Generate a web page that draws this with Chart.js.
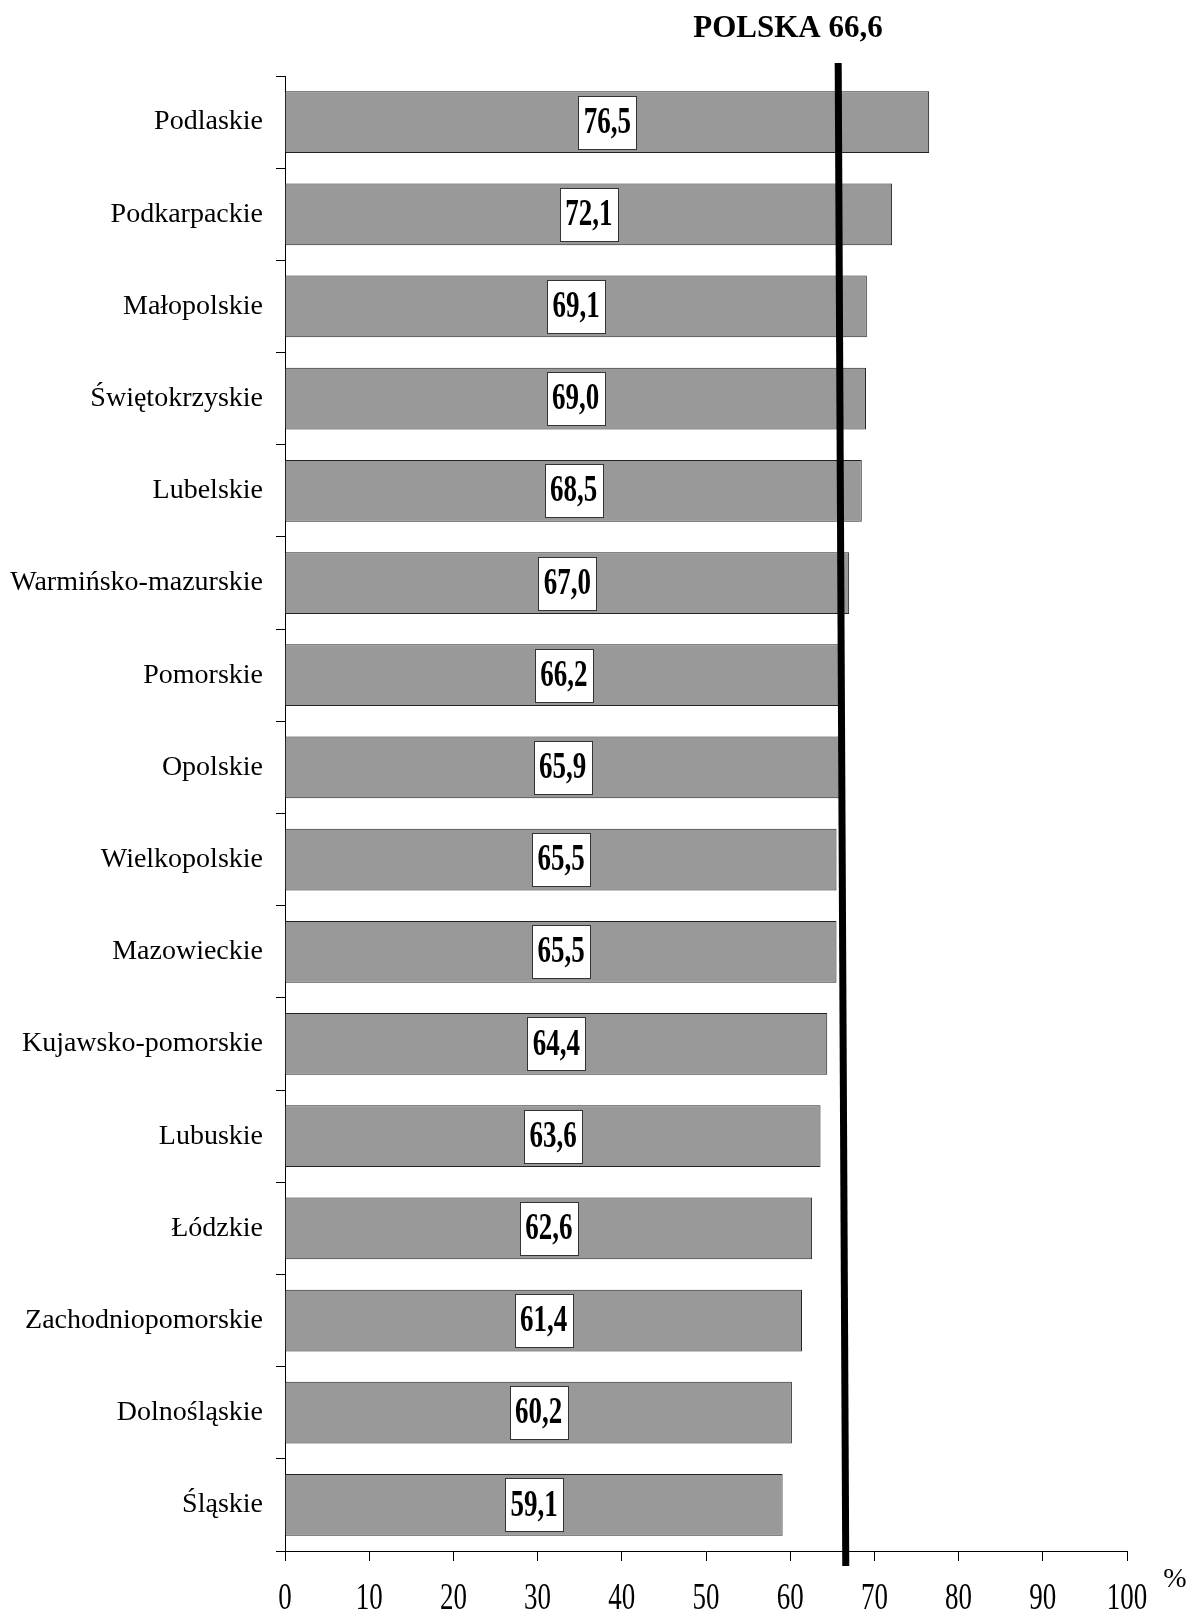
<!DOCTYPE html>
<html>
<head>
<meta charset="utf-8">
<script src="https://cdn.jsdelivr.net/npm/chart.js@4"></script>
<style>
    html, body { margin: 0; padding: 0; background: #fff; }
    #wrap { width: 1191px; height: 1612px; }
</style>
</head>
<body>
<div id="wrap"><canvas id="regionChart" width="1191" height="1612"></canvas></div>
<script>
const regions = ["Podlaskie", "Podkarpackie", "Małopolskie", "Świętokrzyskie", "Lubelskie",
    "Warmińsko-mazurskie", "Pomorskie", "Opolskie", "Wielkopolskie", "Mazowieckie",
    "Kujawsko-pomorskie", "Lubuskie", "Łódzkie", "Zachodniopomorskie", "Dolnośląskie", "Śląskie"];
const shares = [76.5, 72.1, 69.1, 69.0, 68.5, 67.0, 66.2, 65.9, 65.5, 65.5, 64.4, 63.6, 62.6, 61.4, 60.2, 59.1];
const polskaValue = 66.6;
const polskaTopValue = 65.7; // the reference line leans a little to the left at the top
const polskaLabel = "POLSKA 66,6";
const unitLabel = "%";

const serif = "'Liberation Serif', 'Times New Roman', serif";
const tallText = 1.38; // the original numbers are printed narrow and tall

function fmt(v) {
    return v.toFixed(1).replace('.', ',');
}

const extrasPlugin = {
    id: 'extras',
    afterLayout(chart) {
        // stretch the x tick labels vertically, anchored at the axis line
        const sc = chart.scales.x;
        if (sc._tallPatched) return;
        const orig = sc.drawLabels.bind(sc);
        sc.drawLabels = function (area) {
            const ctx = this.ctx;
            const y0 = this.top;
            ctx.save();
            ctx.translate(0, y0 * (1 - tallText));
            ctx.scale(1, tallText);
            orig(area);
            ctx.restore();
        };
        sc._tallPatched = true;
    },
    afterDatasetsDraw(chart) {
        const ctx = chart.ctx;
        const meta = chart.getDatasetMeta(0);
        ctx.save();
        meta.data.forEach((bar, i) => {
            const cx = (bar.x + bar.base) / 2;
            const cy = bar.y;
            const w = 58, h = 53;
            const bx = Math.round(cx - w / 2), by = Math.round(cy - h / 2);
            ctx.fillStyle = '#fff';
            ctx.fillRect(bx, by, w, h);
            ctx.strokeStyle = '#333';
            ctx.lineWidth = 1;
            ctx.strokeRect(bx + 0.5, by + 0.5, w, h);

            ctx.save();
            ctx.translate(cx, cy + 1);
            ctx.scale(1, tallText);
            ctx.fillStyle = '#000';
            ctx.font = "bold 27px " + serif;
            ctx.textAlign = 'center';
            ctx.textBaseline = 'middle';
            ctx.fillText(fmt(shares[i]), 0, 0);
            ctx.restore();
        });
        ctx.restore();
    },
    afterDraw(chart) {
        const ctx = chart.ctx;
        const x = chart.scales.x;
        const area = chart.chartArea;
        ctx.save();
        // national average line
        ctx.strokeStyle = '#000';
        ctx.lineWidth = 7;
        ctx.beginPath();
        ctx.moveTo(x.getPixelForValue(polskaTopValue), area.top - 13);
        ctx.lineTo(x.getPixelForValue(polskaValue), area.bottom + 15);
        ctx.stroke();

        ctx.fillStyle = '#000';
        ctx.font = "bold 31px " + serif;
        ctx.textAlign = 'center';
        ctx.textBaseline = 'middle';
        ctx.fillText(polskaLabel, 788, 29);

        ctx.font = "28px " + serif;
        ctx.fillText(unitLabel, area.right + 48, area.bottom + 29);
        ctx.restore();
    }
};

new Chart(document.getElementById('regionChart'), {
    type: 'bar',
    data: {
        labels: regions,
        datasets: [{
            data: shares,
            backgroundColor: '#999999',
            borderColor: '#222',
            borderWidth: 1,
            barPercentage: 0.67,
            categoryPercentage: 1
        }]
    },
    options: {
        indexAxis: 'y',
        responsive: false,
        animation: false,
        layout: { padding: { top: 76, right: 64, left: 0, bottom: 0 } },
        plugins: {
            legend: { display: false },
            tooltip: { enabled: false }
        },
        scales: {
            x: {
                min: 0,
                max: 100,
                ticks: {
                    stepSize: 10,
                    color: '#000',
                    font: { family: serif, size: 27 },
                    padding: 9,
                    maxRotation: 0
                },
                grid: { drawOnChartArea: false, tickLength: 10, color: '#000' },
                border: { color: '#000', width: 1 },
                afterFit(scale) { scale.height = 61; }
            },
            y: {
                ticks: {
                    color: '#000',
                    font: { family: serif, size: 28 },
                    padding: 13
                },
                grid: { drawOnChartArea: false, tickLength: 9, color: '#000', offset: true },
                border: { color: '#000', width: 1 },
                afterFit(scale) { scale.width = 285; }
            }
        }
    },
    plugins: [extrasPlugin]
});
</script>
</body>
</html>
